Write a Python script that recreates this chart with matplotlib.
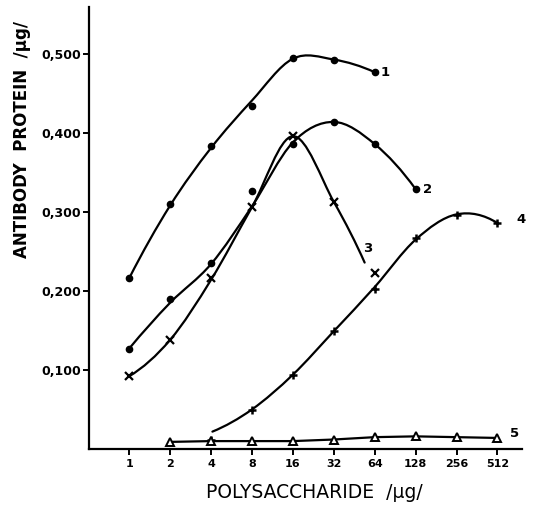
import numpy as np
import matplotlib
matplotlib.use("Agg")
import matplotlib.pyplot as plt
from matplotlib.path import Path
from matplotlib.patches import PathPatch

# ---- data ----
x_ticks = [1, 2, 4, 8, 16, 32, 64, 128, 256, 512]
y_ticks = [0.1, 0.2, 0.3, 0.4, 0.5]
y_tick_labels = ["0,100", "0,200", "0,300", "0,400", "0,500"]

# curve 1 (filled dots)
c1_x = [1, 2, 4, 8, 16, 32, 64]
c1_y = [0.216, 0.310, 0.384, 0.434, 0.495, 0.492, 0.477]
c1_fit_x = [1, 2, 4, 8, 16, 32, 64]
c1_fit_y = [0.216, 0.308, 0.381, 0.441, 0.494, 0.493, 0.477]

# curve 2 (filled dots)
c2_x = [1, 2, 4, 8, 16, 32, 64, 128]
c2_y = [0.127, 0.190, 0.235, 0.327, 0.386, 0.414, 0.386, 0.329]
c2_fit_x = [1, 2, 4, 8, 16, 32, 64, 128]
c2_fit_y = [0.127, 0.185, 0.234, 0.307, 0.388, 0.414, 0.386, 0.329]

# curve 3 (crosses)
c3_x = [1, 2, 4, 8, 16, 32, 64]
c3_y = [0.092, 0.138, 0.216, 0.306, 0.396, 0.313, 0.223]
c3_fit_x = [1, 2, 4, 8, 16, 32, 54]
c3_fit_y = [0.092, 0.138, 0.214, 0.306, 0.396, 0.313, 0.236]

# curve 4 (plus signs)
c4_x = [4, 8, 16, 32, 64, 128, 256, 512]
c4_y = [0.011, 0.049, 0.094, 0.149, 0.203, 0.267, 0.296, 0.286]
c4_fit_x = [4.1, 8, 16, 32, 64, 128, 256, 512]
c4_fit_y = [0.022, 0.050, 0.094, 0.149, 0.205, 0.265, 0.297, 0.286]

# curve 5 (open triangles)
c5_x = [2, 4, 8, 16, 32, 64, 128, 256, 512]
c5_y = [0.009, 0.010, 0.010, 0.010, 0.012, 0.015, 0.016, 0.015, 0.014]

curve_labels = ["1", "2", "3", "4", "5"]


def smooth_path(xs, ys):
    """Catmull-Rom spline (in log2-x space) expressed as cubic Bezier path."""
    lx = np.log2(np.asarray(xs, float))
    y = np.asarray(ys, float)
    P = np.column_stack([lx, y])
    n = len(P)
    first_ghost = 3 * P[0] - 3 * P[1] + P[2]
    last_ghost = 3 * P[-1] - 3 * P[-2] + P[-3]
    verts = [P[0]]
    codes = [Path.MOVETO]
    for i in range(n - 1):
        p0 = P[i - 1] if i > 0 else first_ghost
        p1 = P[i]
        p2 = P[i + 1]
        p3 = P[i + 2] if i + 2 < n else last_ghost
        c1 = p1 + (p2 - p0) / 6.0
        c2 = p2 - (p3 - p1) / 6.0
        verts += [c1, c2, p2]
        codes += [Path.CURVE4] * 3
    v = np.array(verts)
    v[:, 0] = 2.0 ** v[:, 0]
    return Path(v, codes)


fig = plt.figure(figsize=(5.33, 5.05), dpi=100)
ax = fig.add_axes([89 / 533, 56 / 505, 433 / 533, 442 / 505])
ax.set_xscale("log", base=2)
ax.set_xlim(2 ** -0.98, 2 ** 9.6)
ax.set_ylim(0, 0.5595)

lw = 1.6
for fx, fy in [(c1_fit_x, c1_fit_y), (c2_fit_x, c2_fit_y),
               (c3_fit_x, c3_fit_y), (c4_fit_x, c4_fit_y)]:
    ax.add_patch(PathPatch(smooth_path(fx, fy), fill=False,
                           edgecolor="black", lw=lw, capstyle="round"))

ax.plot(c1_x, c1_y, "o", color="black", ms=4.5)
ax.plot(c2_x, c2_y, "o", color="black", ms=4.5)
ax.plot(c3_x, c3_y, "x", color="black", ms=6, mew=1.6)
ax.plot(c4_x, c4_y, "+", color="black", ms=6, mew=1.8)
ax.plot(c5_x, c5_y, "-", color="black", lw=lw)
ax.plot(c5_x, c5_y, "^", color="black", mfc="white", ms=5.5, mew=1.4,
        linestyle="none")

lab_pos = [(77, 0.476), (157, 0.328), (57, 0.254), (760, 0.291), (680, 0.019)]
for t, (lx, ly) in zip(curve_labels, lab_pos):
    ax.text(lx, ly, t, fontsize=9.5, fontweight="bold", ha="center",
            va="center")

for s in ["top", "right"]:
    ax.spines[s].set_visible(False)
ax.spines["left"].set_linewidth(1.6)
ax.spines["bottom"].set_linewidth(1.6)

ax.set_xticks(x_ticks)
ax.set_xticklabels([str(v) for v in x_ticks], fontsize=8, fontweight="bold")
ax.minorticks_off()
ax.set_yticks(y_ticks)
ax.set_yticklabels(y_tick_labels, fontsize=9, fontweight="bold")
ax.tick_params(axis="both", direction="out", length=4, width=1.4)
ax.tick_params(axis="x", pad=3.5)
ax.tick_params(axis="y", pad=2)

ax.set_xlabel("POLYSACCHARIDE  /\u00b5g/", fontsize=13.5)
ax.xaxis.label.set_va("center")
ax.xaxis.set_label_coords((314 - 89) / 433, (449 - 492) / 442)
ax.set_ylabel("ANTIBODY  PROTEIN  /\u00b5g/", fontsize=12, fontweight="bold")
ax.yaxis.set_label_coords((31 - 89) / 433, (449 - 140) / 442)

fig.savefig("out.png", dpi=100)
